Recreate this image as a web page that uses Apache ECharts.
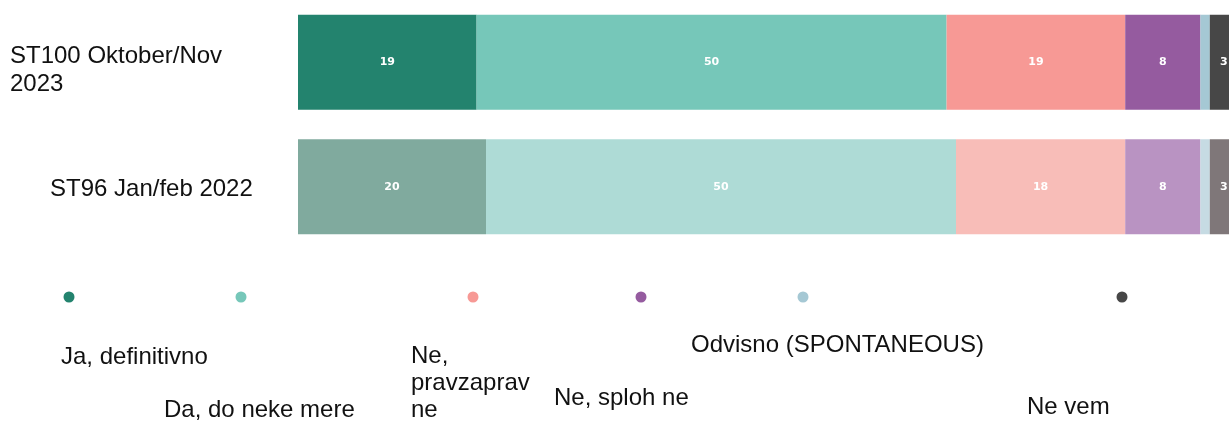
<!DOCTYPE html>
<html>
<head>
<meta charset="utf-8">
<script src="https://cdn.jsdelivr.net/npm/echarts@6/dist/echarts.min.js"></script>
<style>
  html, body { margin: 0; padding: 0; background: #fff; }
  #chart { width: 1229px; height: 421px; }
</style>
</head>
<body>
<div id="chart"></div>
<script>
// 数据
const periods = ['ST100 Oktober/Nov\n2023', 'ST96 Jan/feb 2022']
const answers = ['Ja, definitivno', 'Da, do neke mere', 'Ne,\npravzaprav\nne', 'Ne, sploh ne', 'Odvisno (SPONTANEOUS)', 'Ne vem']
const jaDefinitivno = [19, 20]
const daDoNekeMere = [50, 50]
const nePravzapravNe = [19, 18]
const neSplohNe = [8, 8]
const odvisno = [1, 1]
const neVem = [3, 3]
const values = [jaDefinitivno, daDoNekeMere, nePravzapravNe, neSplohNe, odvisno, neVem]

// 颜色：新一期 / 旧一期（淡色）
const strongColors = ['#23836e', '#76c7b9', '#f79995', '#955b9f', '#a5c8d4', '#474747']
const fadedColors = ['#80aa9e', '#aedbd6', '#f8bdb8', '#b993c2', '#c6dbe3', '#7f7779']

// 图例位置（圆点中心 / 文字中心）
const dotX = [69, 241, 473, 641, 803, 1122]
const labelPos = [[61, 357], [164, 410], [411, 383], [554, 398], [691, 345], [1027, 407]]

const font = '"Liberation Sans", Arial, sans-serif'
const chart = echarts.init(document.getElementById('chart'))

chart.setOption({
  animation: false,
  // 柱子超出画布右边缘（原图被裁切）
  grid: { left: 298, width: 940, top: 0, height: 249, outerBoundsMode: 'none' },
  xAxis: { type: 'value', min: 0, max: 100, show: false },
  yAxis: {
    type: 'category',
    data: periods,
    inverse: true,
    axisLine: { show: false },
    axisTick: { show: false },
    axisLabel: {
      align: 'left',
      margin: 288,
      formatter: (v, i) => i === 0 ? `{a|${v}}` : `{b|${v}}`,
      rich: {
        a: { fontFamily: font, fontSize: 24, lineHeight: 28, color: '#111', padding: [17, 0, 0, 0] },
        b: { fontFamily: font, fontSize: 24, lineHeight: 28, color: '#111', padding: [5, 0, 0, 40] }
      }
    }
  },
  legend: answers.map((name, i) => ({
    data: [name],
    left: dotX[i] - 10.5,
    top: 286.5,
    icon: 'circle',
    itemWidth: 11,
    itemHeight: 11,
    selectedMode: false,
    formatter: () => ''
  })),
  series: answers.map((name, i) => ({
    name,
    type: 'bar',
    stack: 'total',
    barWidth: 95,
    itemStyle: { color: strongColors[i] },
    label: {
      show: true,
      color: '#fff',
      fontFamily: '"DejaVu Sans", sans-serif',
      fontWeight: 'bold',
      fontSize: 11,
      formatter: p => p.value >= 2 ? p.value : ''
    },
    data: values[i].map((v, k) => ({
      value: v,
      itemStyle: { color: k === 0 ? strongColors[i] : fadedColors[i] }
    }))
  })),
  graphic: answers.map((name, i) => ({
    type: 'text',
    x: labelPos[i][0],
    y: labelPos[i][1],
    style: {
      text: name,
      font: `24px ${font}`,
      lineHeight: 27,
      verticalAlign: 'middle',
      fill: '#111'
    }
  }))
})
</script>
</body>
</html>
